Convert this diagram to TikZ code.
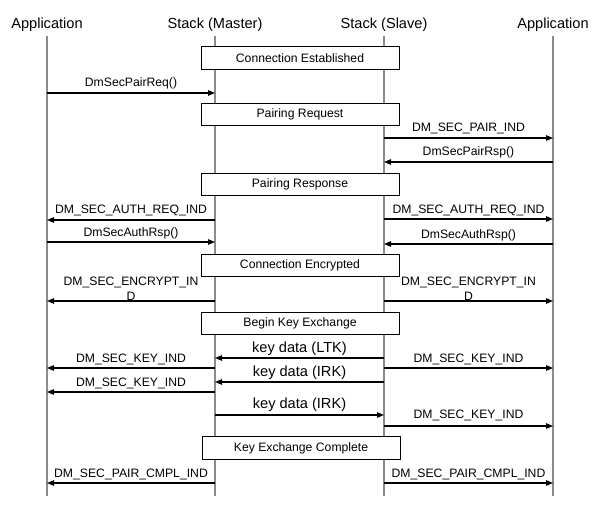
\documentclass[tikz,border=0pt]{standalone}
\usepackage{fontspec}
\setmainfont{Liberation Sans}
\usepackage{tikz}
\usetikzlibrary{arrows.meta}
\usetikzlibrary{positioning}

\begin{document}
\begin{tikzpicture}[x=1pt,y=-1pt,>={Triangle[length=7pt,width=5.5pt]},line width=1.1pt]
	\tikzstyle{head}=[inner sep=0pt, font=\fontsize{14.6}{17}\selectfont]
	\tikzstyle{lane}=[draw=black!45, line width=1.7pt]
	\tikzstyle{phase}=[draw, fill=white, line width=0.9pt, minimum width=198pt, minimum height=22.5pt, inner sep=0pt, font=\fontsize{12.2}{14}\selectfont]
	\tikzstyle{msg}=[->]
	\tikzstyle{lbl}=[midway, anchor=base, yshift=6pt, inner sep=0pt, font=\fontsize{12.2}{15}\selectfont]
	\tikzstyle{kd}=[midway, anchor=base, yshift=5.5pt, inner sep=0pt, font=\fontsize{14.6}{17}\selectfont]
	\useasboundingbox (0,0) rectangle (600,508);
	% participants
	\node[head] (appA)   at (47,25)  {Application};
	\node[head] (master) at (215,25) {Stack (Master)};
	\node[head] (slave)  at (384,25) {Stack (Slave)};
	\node[head] (appB)   at (553,25) {Application};
	\foreach \n in {appA,master,slave,appB}
		\draw[lane] (\n |- 0,36) -- (\n |- 0,496);
	% phases
	\node[phase] (est)  at (300,58)    {Connection Established};
	\node[phase] (preq) at (300,114.5) {Pairing Request};
	\node[phase] (prsp) at (300,184.5) {Pairing Response};
	\node[phase] (enc)  at (300,265.5) {Connection Encrypted};
	\node[phase] (bke)  at (300,323.5) {Begin Key Exchange};
	\node[phase] (kec)  at (301,448)   {Key Exchange Complete};
	% messages
	\draw[msg] (appA |- 0,93) -- node[lbl] {DmSecPairReq()} (master |- 0,93);
	\draw[msg] (slave |- 0,138) -- node[lbl] {DM\_SEC\_PAIR\_IND} (appB |- 0,138);
	\draw[msg] (appB |- 0,162) -- node[lbl] {DmSecPairRsp()} (slave |- 0,162);
	\draw[msg] (master |- 0,220) -- node[lbl] {DM\_SEC\_AUTH\_REQ\_IND} (appA |- 0,220);
	\draw[msg] (slave |- 0,219) -- node[lbl] {DM\_SEC\_AUTH\_REQ\_IND} (appB |- 0,219);
	\draw[msg] (appA |- 0,242) -- node[lbl] {DmSecAuthRsp()} (master |- 0,242);
	\draw[msg] (appB |- 0,244) -- node[lbl] {DmSecAuthRsp()} (slave |- 0,244);
	\draw[msg] (master |- 0,301) -- node[lbl, anchor=south, yshift=-6pt, align=center] {DM\_SEC\_ENCRYPT\_IN\\D} (appA |- 0,301);
	\draw[msg] (slave |- 0,301) -- node[lbl, anchor=south, yshift=-6pt, align=center] {DM\_SEC\_ENCRYPT\_IN\\D} (appB |- 0,301);
	\draw[msg] (slave |- 0,358) -- node[kd] {key data (LTK)} (master |- 0,358);
	\draw[msg] (master |- 0,368) -- node[lbl] {DM\_SEC\_KEY\_IND} (appA |- 0,368);
	\draw[msg] (slave |- 0,368) -- node[lbl] {DM\_SEC\_KEY\_IND} (appB |- 0,368);
	\draw[msg] (slave |- 0,382) -- node[kd] {key data (IRK)} (master |- 0,382);
	\draw[msg] (master |- 0,392) -- node[lbl] {DM\_SEC\_KEY\_IND} (appA |- 0,392);
	\draw[msg] (master |- 0,415) -- node[kd, yshift=1pt] {key data (IRK)} (slave |- 0,415);
	\draw[msg] (slave |- 0,426) -- node[lbl, yshift=2pt] {DM\_SEC\_KEY\_IND} (appB |- 0,426);
	\draw[msg] (master |- 0,483) -- node[lbl] {DM\_SEC\_PAIR\_CMPL\_IND} (appA |- 0,483);
	\draw[msg] (slave |- 0,483) -- node[lbl] {DM\_SEC\_PAIR\_CMPL\_IND} (appB |- 0,483);
\end{tikzpicture}
\end{document}
